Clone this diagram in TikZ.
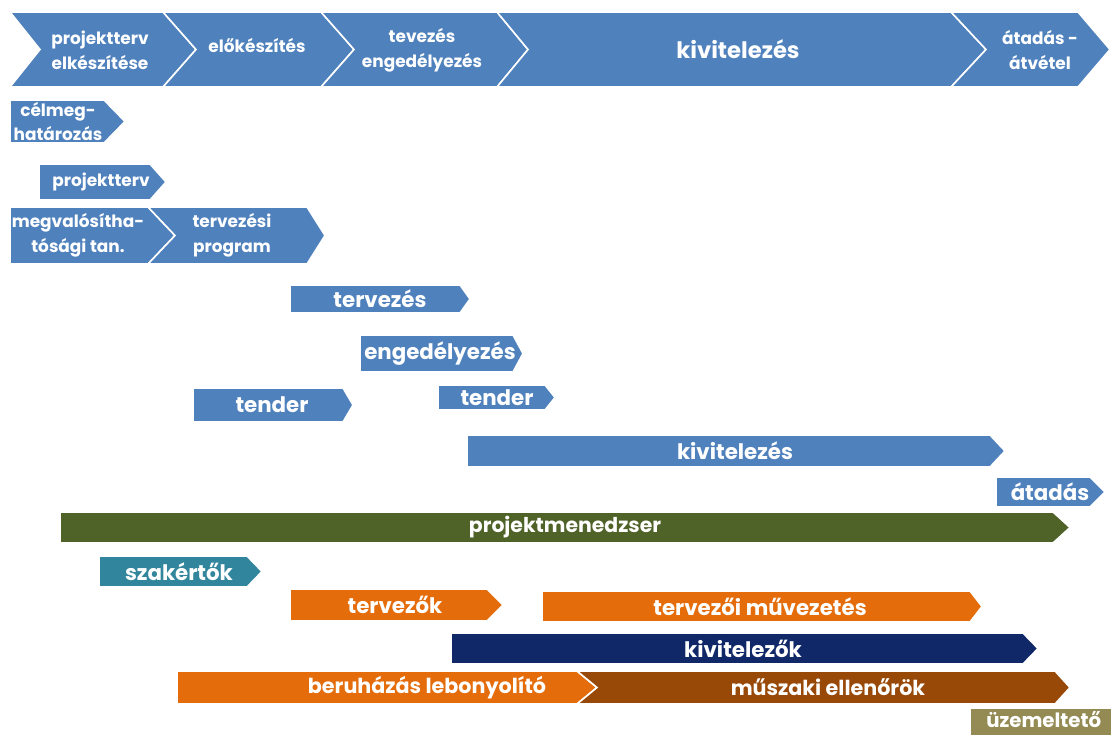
\documentclass[tikz,border=0pt]{standalone}
\usepackage{fontspec}
\setmainfont{Poppins}
\usepackage{xcolor}
\usepackage{tikz}

\definecolor{phaseblue}{RGB}{79,129,189}
\definecolor{pmgreen}{RGB}{79,98,40}
\definecolor{expteal}{RGB}{49,133,156}
\definecolor{desorange}{RGB}{228,108,10}
\definecolor{connavy}{RGB}{16,40,104}
\definecolor{supbrown}{RGB}{152,72,7}
\definecolor{opkhaki}{RGB}{148,138,84}

\begin{document}
\begin{tikzpicture}[x=0.75pt, y=-0.75pt,
    chev/.style={fill=#1, draw=white, line width=1.2pt, line join=miter},
    lbl/.style={text=white, inner sep=0pt, font=\bfseries\fontsize{16}{18}\selectfont},
    smalllbl/.style={text=white, inner sep=0pt, align=center, font=\bfseries\fontsize{12.7}{18.5}\selectfont}
]
\useasboundingbox (0,0) rectangle (1111,735);
\clip (0,0) rectangle (1111,735);
\fill[white] (0,0) rectangle (1111,735);

% Phases
\fill[chev=phaseblue] (10,12) -- (163,12) -- (196,49.5) -- (163,87) -- (10,87) -- (40,49.5) -- cycle;
\fill[chev=phaseblue] (163,12) -- (321,12) -- (354,49.5) -- (321,87) -- (163,87) -- (196,49.5) -- cycle;
\fill[chev=phaseblue] (321,12) -- (497,12) -- (528,49.5) -- (497,87) -- (321,87) -- (354,49.5) -- cycle;
\fill[chev=phaseblue] (497,12) -- (951,12) -- (986,49.5) -- (951,87) -- (497,87) -- (528,49.5) -- cycle;
\fill[chev=phaseblue] (951,12) -- (1078,12) -- (1110,49.5) -- (1078,87) -- (951,87) -- (986,49.5) -- cycle;
\node[smalllbl] (ph1) at (100,50) {projektterv\\elkészítése};
\node[smalllbl] (ph2) at (257,46) {előkészítés};
\node[smalllbl] (ph3) at (422,50) {tevezés\\engedélyezés};
\node[lbl, font=\bfseries\fontsize{17}{19}\selectfont] (ph4) at (738,49) {kivitelezés};
\node[smalllbl] (ph5) at (1040,50) {átadás -\\átvétel};

% Preparation
\fill[chev=phaseblue] (10,100) -- (104,100) -- (125,121.5) -- (104,143) -- (10,143) -- cycle;
\fill[chev=phaseblue] (39,164) -- (150,164) -- (166,182) -- (150,200) -- (39,200) -- cycle;
\fill[chev=phaseblue] (10,207) -- (148,207) -- (175,235.5) -- (148,264) -- (10,264) -- cycle;
\fill[chev=phaseblue] (148,207) -- (307,207) -- (325,235.5) -- (307,264) -- (148,264) -- (175,235.5) -- cycle;
\node[smalllbl] (celmeg) at (58,121.5) {célmeg-\\határozás};
\node[smalllbl] (projterv) at (101,182) {projektterv};
\node[smalllbl] (megval) at (78,235.5) {megvalósítha-\\tósági tan.};
\node[smalllbl] (tervprog) at (232,235.5) {tervezési\\program};

% Design, permits, tenders
\fill[chev=phaseblue] (290,285) -- (460,285) -- (470,299) -- (460,313) -- (290,313) -- cycle;
\fill[chev=phaseblue] (360,335) -- (513,335) -- (523,353.5) -- (513,372) -- (360,372) -- cycle;
\fill[chev=phaseblue] (193,388) -- (343,388) -- (353,405) -- (343,422) -- (193,422) -- cycle;
\fill[chev=phaseblue] (438,385) -- (545,385) -- (555,397.5) -- (545,410) -- (438,410) -- cycle;
\node[lbl] (tervezes) at (380,299) {tervezés};
\node[lbl] (engedely) at (440,353.5) {engedélyezés};
\node[lbl] (tenderA) at (272,405) {tender};
\node[lbl] (tenderB) at (497,397.5) {tender};

% Construction, handover
\fill[chev=phaseblue] (467,435) -- (990,435) -- (1005,451) -- (990,467) -- (467,467) -- cycle;
\fill[chev=phaseblue] (996,477) -- (1090,477) -- (1105,492) -- (1090,507) -- (996,507) -- cycle;
\node[lbl] (kivit) at (735,451) {kivitelezés};
\node[lbl] (atadas) at (1050,492) {átadás};

% Participants
\fill[chev=pmgreen] (60,512) -- (1053,512) -- (1070,527.5) -- (1053,543) -- (60,543) -- cycle;
\fill[chev=expteal] (99,556) -- (247,556) -- (262,571.5) -- (247,587) -- (99,587) -- cycle;
\fill[chev=desorange] (290,589) -- (487,589) -- (503,605) -- (487,621) -- (290,621) -- cycle;
\fill[chev=desorange] (542,591) -- (970,591) -- (982,606.5) -- (970,622) -- (542,622) -- cycle;
\fill[chev=connavy] (451,633) -- (1023,633) -- (1038,648.5) -- (1023,664) -- (451,664) -- cycle;
\fill[chev=desorange] (177,671) -- (577,671) -- (597,687.5) -- (577,704) -- (177,704) -- cycle;
\fill[chev=supbrown] (577,671) -- (1055,671) -- (1070,687.5) -- (1055,704) -- (577,704) -- (597,687.5) -- cycle;
\fill[chev=opkhaki] (970,708) rectangle (1120,745);
\node[lbl, font=\bfseries\fontsize{15.3}{18}\selectfont] (pm) at (565,527.5) {projektmenedzser};
\node[lbl] (szakert) at (179,571.5) {szakértők};
\node[lbl] (tervezok) at (395,605) {tervezők};
\node[lbl] (muvez) at (760,606.5) {tervezői művezetés};
\node[lbl] (kivitelezok) at (743,648.5) {kivitelezők};
\node[lbl, font=\bfseries\fontsize{15.5}{18}\selectfont] (lebony) at (427,687.5) {beruházás lebonyolító};
\node[lbl, font=\bfseries\fontsize{15.5}{18}\selectfont] (muszaki) at (828,687.5) {műszaki ellenőrök};
\node[lbl, font=\bfseries\fontsize{14.8}{17}\selectfont, anchor=west] (uzem) at (986,720) {üzemeltető};
\end{tikzpicture}
\end{document}
